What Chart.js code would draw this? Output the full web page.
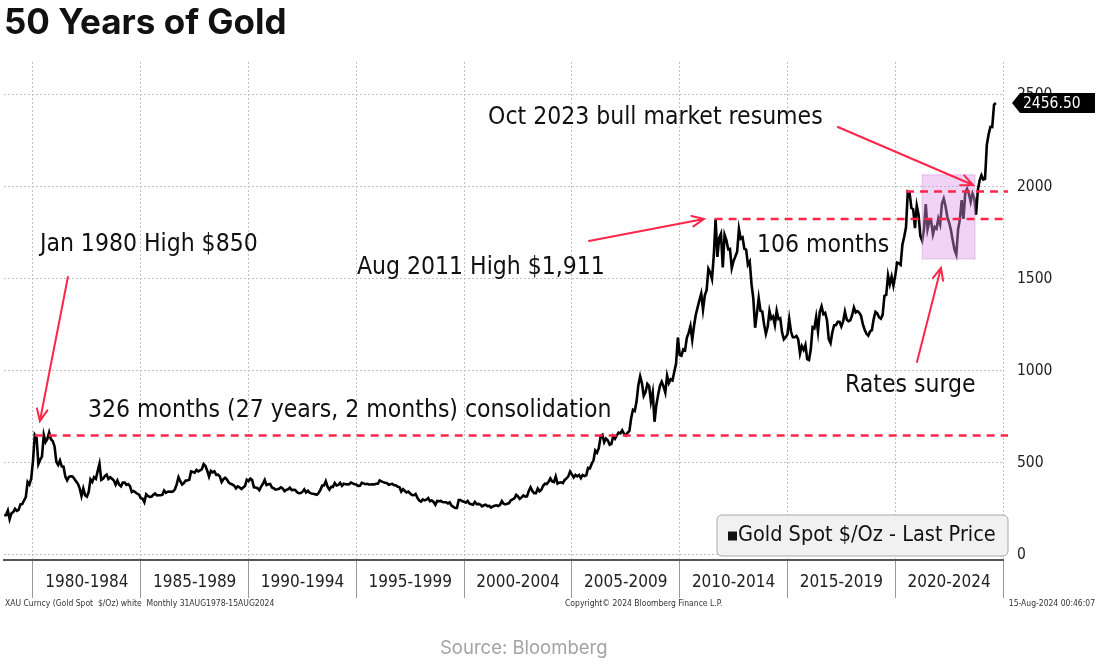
<!DOCTYPE html>
<html>
<head>
<meta charset="utf-8">
<title>50 Years of Gold</title>
<script src="https://cdn.jsdelivr.net/npm/chart.js@4.4.1/dist/chart.umd.min.js"></script>
<style>
    html, body { margin: 0; padding: 0; background: #fff; }
    #wrap { position: relative; width: 1100px; height: 665px; }
</style>
</head>
<body>
<div id="wrap"><canvas id="goldChart"></canvas></div>
<script>
// Gold spot, monthly last price (USD/oz), Aug 1978 .. Aug 2024
const firstMonth = 1978 + 8 / 12;
const goldClose = [
    215, 217, 242, 194, 226,                                              // 1978 Aug-Dec
    233, 251, 240, 245, 275, 277, 296, 315, 397, 383, 415, 512,           // 1979
    653, 637, 494, 518, 535, 653, 614, 631, 666, 629, 619, 590,           // 1980
    506, 489, 514, 482, 480, 426, 406, 425, 428, 427, 414, 400,           // 1981
    387, 362, 320, 361, 325, 317, 342, 411, 397, 423, 414, 456,           // 1982
    495, 408, 414, 429, 437, 413, 422, 414, 405, 382, 405, 382,           // 1983
    373, 394, 394, 381, 385, 374, 342, 348, 341, 333, 329, 309,           // 1984
    306, 287, 330, 321, 316, 317, 327, 334, 324, 325, 325, 327,           // 1985
    350, 338, 344, 345, 343, 346, 357, 384, 423, 401, 383, 391,           // 1986
    405, 405, 409, 454, 451, 447, 462, 454, 460, 466, 494, 484,           // 1987
    458, 426, 457, 449, 455, 436, 437, 427, 397, 412, 420, 410,           // 1988
    394, 387, 383, 377, 362, 373, 368, 359, 367, 375, 409, 401,           // 1989
    415, 407, 368, 367, 363, 352, 372, 387, 408, 380, 384, 386,           // 1990
    367, 363, 355, 357, 360, 368, 362, 347, 354, 357, 366, 353,           // 1991
    354, 353, 341, 336, 337, 343, 357, 340, 349, 339, 334, 333,           // 1992
    330, 327, 337, 354, 378, 378, 401, 371, 355, 370, 370, 391,           // 1993
    378, 381, 392, 376, 387, 385, 384, 385, 394, 389, 384, 383,           // 1994
    375, 376, 392, 389, 385, 387, 383, 383, 384, 383, 387, 387,           // 1995
    405, 400, 396, 393, 391, 382, 385, 387, 379, 379, 371, 369,           // 1996
    345, 358, 348, 340, 345, 334, 326, 325, 332, 311, 296, 290,           // 1997
    302, 297, 301, 310, 293, 296, 288, 273, 294, 292, 294, 288,           // 1998
    287, 287, 280, 286, 268, 262, 255, 255, 299, 299, 292, 290,           // 1999
    284, 293, 279, 276, 273, 288, 277, 278, 274, 264, 270, 273,           // 2000
    266, 267, 258, 264, 267, 270, 266, 273, 293, 279, 275, 279,           // 2001
    282, 297, 302, 308, 327, 318, 305, 313, 324, 317, 319, 348,           // 2002
    368, 348, 336, 336, 361, 346, 355, 376, 388, 386, 398, 416,           // 2003
    400, 396, 427, 388, 393, 395, 391, 408, 416, 428, 453, 438,           // 2004
    422, 435, 427, 435, 418, 435, 429, 433, 473, 470, 495, 513,           // 2005
    568, 556, 582, 644, 653, 613, 633, 623, 599, 604, 646, 632,           // 2006
    650, 665, 661, 677, 659, 650, 665, 673, 743, 789, 783, 834,           // 2007
    923, 971, 933, 865, 885, 930, 918, 833, 884, 724, 814, 870,           // 2008
    919, 942, 916, 883, 975, 934, 955, 949, 996, 1040, 1182, 1087,        // 2009
    1083, 1118, 1113, 1180, 1207, 1244, 1169, 1246, 1307, 1346, 1386, 1421, // 2010
    1333, 1411, 1439, 1556, 1536, 1500, 1628, 1826, 1620, 1722, 1746, 1563, // 2011
    1740, 1711, 1662, 1664, 1559, 1598, 1622, 1648, 1772, 1719, 1726, 1664, // 2012
    1660, 1578, 1595, 1472, 1393, 1235, 1313, 1396, 1327, 1323, 1253, 1202, // 2013
    1240, 1326, 1284, 1296, 1250, 1327, 1282, 1287, 1210, 1172, 1183, 1199, // 2014
    1283, 1213, 1183, 1183, 1190, 1172, 1095, 1135, 1115, 1142, 1065, 1060, // 2015
    1118, 1238, 1232, 1293, 1215, 1320, 1351, 1309, 1316, 1277, 1173, 1152, // 2016
    1211, 1249, 1249, 1268, 1268, 1242, 1269, 1322, 1280, 1271, 1275, 1303, // 2017
    1345, 1318, 1325, 1316, 1299, 1253, 1224, 1202, 1192, 1215, 1222, 1282, // 2018
    1321, 1313, 1292, 1284, 1305, 1409, 1414, 1520, 1472, 1513, 1464, 1517, // 2019
    1589, 1585, 1577, 1686, 1730, 1781, 1975, 1968, 1886, 1879, 1777, 1898, // 2020
    1848, 1734, 1708, 1769, 1907, 1770, 1814, 1814, 1743, 1783, 1774, 1829, // 2021
    1797, 1909, 1937, 1897, 1838, 1807, 1766, 1711, 1660, 1633, 1769, 1824, // 2022
    1928, 1827, 1969, 1990, 1963, 1919, 1965, 1940, 1849, 1983, 2036, 2063, // 2023
    2040, 2044, 2230, 2286, 2327, 2326, 2447, 2456.5                       // 2024 Jan-Aug
];

const periodStarts = [1980, 1985, 1990, 1995, 2000, 2005, 2010, 2015, 2020, 2025];
const periodLabels = ['1980-1984', '1985-1989', '1990-1994', '1995-1999', '2000-2004',
    '2005-2009', '2010-2014', '2015-2019', '2020-2024'];
const priceTicks = [0, 500, 1000, 1500, 2000, 2500];

// red dashed highs: value and the month where the line starts
const highValues = [650, 1826, 1975];
const highStarts = [1980.08, 2011.62, 2020.5];

// "rates surge" window
const surgeBox = { from: 2021.25, to: 2023.7, low: 1609, high: 2066 };

// notes and arrows, in chart coordinates (year, price)
const noteTexts = ['Oct 2023 bull market resumes', 'Jan 1980 High $850', 'Aug 2011 High $1,911',
    '106 months', '326 months (27 years, 2 months) consolidation', 'Rates surge'];
const noteYears = [2001.11, 1980.32, 1995.03, 2013.59, 1982.55, 2017.67];
const notePrices = [2378, 1688, 1562, 1683, 786, 920];

const arrowTails = [[1981.62, 1511], [2005.79, 1707], [2017.34, 2326], [2021.01, 1049]];
const arrowHeads = [[1980.32, 728], [2011.13, 1826], [2023.61, 2011], [2022.12, 1560]];

const RED = 'rgb(255, 38, 74)';
const BBG_FONT = '"DejaVu Sans Condensed", "DejaVu Sans", sans-serif';

const goldPoints = goldClose.map((v, i) => ({ x: firstMonth + i / 12, y: v }));

const xTickValues = [];
const midLabels = new Map();
periodLabels.forEach((label, i) => {
    xTickValues.push(periodStarts[i], periodStarts[i] + 2.5);
    midLabels.set(periodStarts[i] + 2.5, label);
});
xTickValues.push(periodStarts[periodStarts.length - 1]);
const isBoundary = (ctx) => ctx.tick && periodStarts.includes(ctx.tick.value);

const drawArrow = (ctx, x1, y1, x2, y2) => {
    const ang = Math.atan2(y2 - y1, x2 - x1);
    const head = 13;
    const spread = 0.42;
    ctx.beginPath();
    ctx.moveTo(x1, y1);
    ctx.lineTo(x2, y2);
    ctx.moveTo(x2 - head * Math.cos(ang - spread), y2 - head * Math.sin(ang - spread));
    ctx.lineTo(x2, y2);
    ctx.lineTo(x2 - head * Math.cos(ang + spread), y2 - head * Math.sin(ang + spread));
    ctx.stroke();
};

const notesPlugin = {
    id: 'goldNotes',
    afterDatasetsDraw(chart) {
        const { ctx, chartArea, scales: { x, y } } = chart;
        ctx.save();

        // pink box over the 2021-2023 dip
        const bx1 = x.getPixelForValue(surgeBox.from);
        const bx2 = x.getPixelForValue(surgeBox.to);
        const by1 = y.getPixelForValue(surgeBox.high);
        const by2 = y.getPixelForValue(surgeBox.low);
        ctx.fillStyle = 'rgba(222, 150, 232, 0.42)';
        ctx.fillRect(bx1, by1, bx2 - bx1, by2 - by1);
        ctx.strokeStyle = 'rgba(210, 140, 222, 0.5)';
        ctx.lineWidth = 1;
        ctx.strokeRect(bx1, by1, bx2 - bx1, by2 - by1);

        // dashed high lines
        ctx.strokeStyle = RED;
        ctx.lineWidth = 2.5;
        ctx.setLineDash([8, 6]);
        highValues.forEach((v, i) => {
            const py = y.getPixelForValue(v);
            ctx.beginPath();
            ctx.moveTo(x.getPixelForValue(highStarts[i]), py);
            ctx.lineTo(chartArea.right + 5, py);
            ctx.stroke();
        });
        ctx.setLineDash([]);

        // arrows
        ctx.lineWidth = 2;
        ctx.lineCap = 'round';
        arrowTails.forEach((t, i) => {
            const h = arrowHeads[i];
            drawArrow(ctx, x.getPixelForValue(t[0]), y.getPixelForValue(t[1]),
                x.getPixelForValue(h[0]), y.getPixelForValue(h[1]));
        });
        ctx.restore();
    },
    afterDraw(chart) {
        const { ctx, chartArea, scales: { x, y } } = chart;
        ctx.save();

        // note texts
        ctx.fillStyle = '#111';
        ctx.font = `24.5px ${BBG_FONT}`;
        ctx.textAlign = 'left';
        ctx.textBaseline = 'middle';
        noteTexts.forEach((t, i) => {
            ctx.fillText(t, x.getPixelForValue(noteYears[i]), y.getPixelForValue(notePrices[i]));
        });

        // legend box
        const lgRight = chartArea.right + 5;
        const lgLeft = lgRight - 291;
        const lgBottom = chartArea.bottom - 4;
        const lgTop = lgBottom - 41;
        ctx.beginPath();
        ctx.roundRect(lgLeft, lgTop, lgRight - lgLeft, lgBottom - lgTop, 5);
        ctx.fillStyle = '#f1f1f1';
        ctx.fill();
        ctx.strokeStyle = '#a8a8a8';
        ctx.lineWidth = 1;
        ctx.stroke();
        const lgMid = (lgTop + lgBottom) / 2;
        ctx.fillStyle = '#111';
        ctx.fillRect(lgLeft + 11, lgMid - 4, 9, 9);
        ctx.font = `21.5px ${BBG_FONT}`;
        ctx.fillText(chart.data.datasets[0].label, lgLeft + 21, lgMid);

        // last price tag
        const last = goldClose[goldClose.length - 1];
        const py = y.getPixelForValue(last);
        const tip = chartArea.right + 9;
        ctx.beginPath();
        ctx.moveTo(tip, py);
        ctx.lineTo(tip + 8, py - 10);
        ctx.lineTo(1095, py - 10);
        ctx.lineTo(1095, py + 10);
        ctx.lineTo(tip + 8, py + 10);
        ctx.closePath();
        ctx.fillStyle = '#000';
        ctx.fill();
        ctx.fillStyle = '#fff';
        ctx.font = `15.5px ${BBG_FONT}`;
        ctx.fillText(last.toFixed(2), tip + 11, py + 1);

        // footer lines
        ctx.fillStyle = '#333';
        ctx.font = `8.5px ${BBG_FONT}`;
        ctx.fillText('XAU Curncy (Gold Spot  $/Oz) white  Monthly 31AUG1978-15AUG2024', 5, 604);
        ctx.fillText('Copyright\u00A9 2024 Bloomberg Finance L.P.', 565, 604);
        ctx.textAlign = 'right';
        ctx.fillText('15-Aug-2024 00:46:07', 1095, 604);

        ctx.textAlign = 'left';
        ctx.fillStyle = '#a3a3a3';
        ctx.font = '18.5px Inter, "Noto Sans", sans-serif';
        ctx.fillText('Source: Bloomberg', 440, 648);
        ctx.restore();
    }
};

new Chart(document.getElementById('goldChart'), {
    type: 'line',
    data: {
        datasets: [{
            label: 'Gold Spot $/Oz - Last Price',
            data: goldPoints,
            borderColor: '#000',
            borderWidth: 2.6,
            pointRadius: 0,
            tension: 0,
            fill: false
        }]
    },
    options: {
        responsive: true,
        maintainAspectRatio: false,
        animation: false,
        devicePixelRatio: 1,
        layout: { padding: { left: 4, right: 0, top: 0, bottom: 0 } },
        plugins: {
            legend: { display: false },
            tooltip: { enabled: false },
            title: {
                display: true,
                text: '50 Years of Gold',
                align: 'start',
                color: '#111',
                font: { family: 'Inter, "Noto Sans", sans-serif', size: 35, weight: '700', lineHeight: 1.2 },
                padding: { top: 2, bottom: 18 }
            }
        },
        scales: {
            x: {
                type: 'linear',
                min: 1978.655,
                max: 2025,
                afterBuildTicks: (scale) => {
                    scale.ticks = xTickValues.map(value => ({ value }));
                },
                afterFit: (scale) => { scale.height = 105; },
                grid: {
                    color: (c) => isBoundary(c) ? '#c2c2c2' : 'rgba(0,0,0,0)',
                    lineWidth: 1,
                    drawTicks: true,
                    tickLength: 38,
                    tickColor: (c) => isBoundary(c) ? '#9a9a9a' : 'rgba(0,0,0,0)',
                    tickWidth: 1
                },
                border: { display: true, color: '#555', width: 2, dash: [2, 2] },
                ticks: {
                    autoSkip: false,
                    maxRotation: 0,
                    minRotation: 0,
                    padding: -26,
                    color: '#222',
                    font: { family: BBG_FONT, size: 17 },
                    callback: (v) => midLabels.get(v) || ''
                }
            },
            y: {
                position: 'right',
                min: -27.2,
                max: 2679.3,
                afterBuildTicks: (scale) => {
                    scale.ticks = priceTicks.map(value => ({ value }));
                },
                afterFit: (scale) => { scale.width = 97; },
                grid: { color: '#c2c2c2', lineWidth: 1, drawTicks: false },
                border: { display: false, dash: [2, 2] },
                ticks: {
                    padding: 14,
                    color: '#222',
                    font: { family: BBG_FONT, size: 15.5 },
                    callback: (v) => String(v)
                }
            }
        }
    },
    plugins: [notesPlugin]
});
</script>
</body>
</html>
